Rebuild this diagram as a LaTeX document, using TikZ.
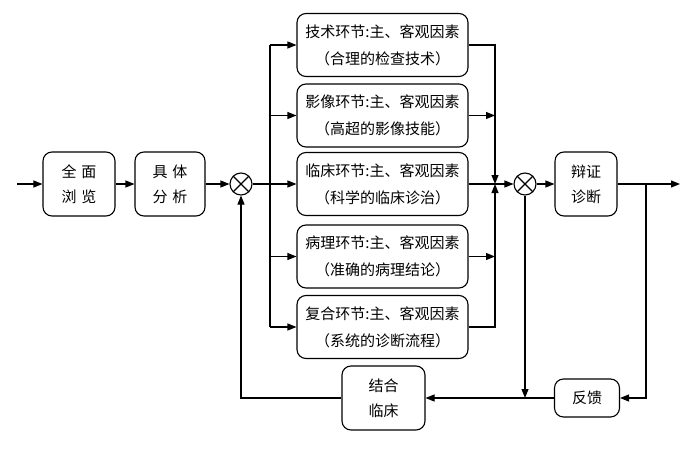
\documentclass[tikz,border=0pt]{standalone}
\usepackage{fontspec}
\newfontfamily\cjk{Noto Sans CJK SC}
\usetikzlibrary{arrows.meta}

\begin{document}
\begin{tikzpicture}[x=1pt, y=-1pt, line width=1.1pt,
		blk/.style = {draw, rounded corners=9pt, align=center, inner sep=0pt, font=\cjk\fontsize{15}{25}\selectfont},
		big/.style = {blk, minimum width=171pt, minimum height=63pt, font=\cjk\fontsize{15}{27}\selectfont},
		sum/.style = {draw, circle, minimum size=22pt, inner sep=0pt, fill=white,
			path picture={\draw (path picture bounding box.north west) -- (path picture bounding box.south east)
				(path picture bounding box.north east) -- (path picture bounding box.south west);}},
		arr/.style = {-{Triangle[length=9pt,width=7pt]}}]
		\useasboundingbox (0,0) rectangle (700,465);
		% front part
		\node [blk, minimum width=72pt, minimum height=64pt] (quanmian) at (79,184) {全\hspace{5pt}面\\浏\hspace{5pt}览};
		\node [blk, minimum width=70pt, minimum height=64pt] (juti) at (170,184) {具\hspace{5pt}体\\分\hspace{5pt}析};
		\node [sum] (sumA) at (241,184) {};
		% five links
		\node [big] (jishu) at (382.5,45) {技术环节:主、客观因素\\（合理的检查技术）};
		\node [big] (yingxiang) at (382.5,115.5) {影像环节:主、客观因素\\（高超的影像技能）};
		\node [big] (linchuang) at (382.5,184) {临床环节:主、客观因素\\（科学的临床诊治）};
		\node [big] (bingli) at (382.5,256.5) {病理环节:主、客观因素\\（准确的病理结论）};
		\node [big] (fuhe) at (382.5,327) {复合环节:主、客观因素\\（系统的诊断流程）};
		% back part
		\node [sum] (sumB) at (525,184) {};
		\node [blk, minimum width=62pt, minimum height=64pt] (bianzheng) at (586,184) {辩证\\诊断};
		\node [blk, minimum width=65pt, minimum height=38pt] (fankui) at (587,398) {反馈};
		\node [blk, minimum width=83pt, minimum height=64pt] (jiehe) at (383.5,398) {结合\\临床};
		\coordinate (in) at (17,184);
		\coordinate (out) at (680,184);
		\coordinate (ltop) at (270,45);
		\coordinate (lbot) at (270,327);
		\coordinate (rtop) at (495,45);
		\coordinate (rbot) at (495,327);
		\coordinate (rmid) at (495,184);
		\coordinate (fb) at (646,184);
		% connectors
		\draw [arr] (in) -- (quanmian);
		\draw [arr] (quanmian) -- (juti);
		\draw [arr] (juti) -- (sumA);
		\draw [arr] (sumA) -- (linchuang);
		\draw (ltop) -- (lbot);
		\foreach \b in {jishu, yingxiang, bingli, fuhe}
			\draw [arr] (ltop |- \b) -- (\b);
		\draw [arr] (jishu.east) -- (rtop) -- (rmid);
		\draw [arr] (yingxiang) -- (rtop |- yingxiang);
		\draw [arr] (bingli) -- (rtop |- bingli);
		\draw [arr] (fuhe.east) -- (rbot) -- (rmid);
		\draw [arr] (linchuang) -- (sumB);
		\draw [arr] (sumB) -- (bianzheng);
		\draw [arr] (bianzheng) -- (out);
		\draw [arr] (fb) -- (fb |- fankui) -- (fankui);
		\draw [arr] (fankui) -- (jiehe);
		\draw [arr] (sumB) -- (sumB |- fankui);
		\draw [arr] (jiehe.west) -- (sumA |- jiehe) -- (sumA);
	\end{tikzpicture}
\end{document}
